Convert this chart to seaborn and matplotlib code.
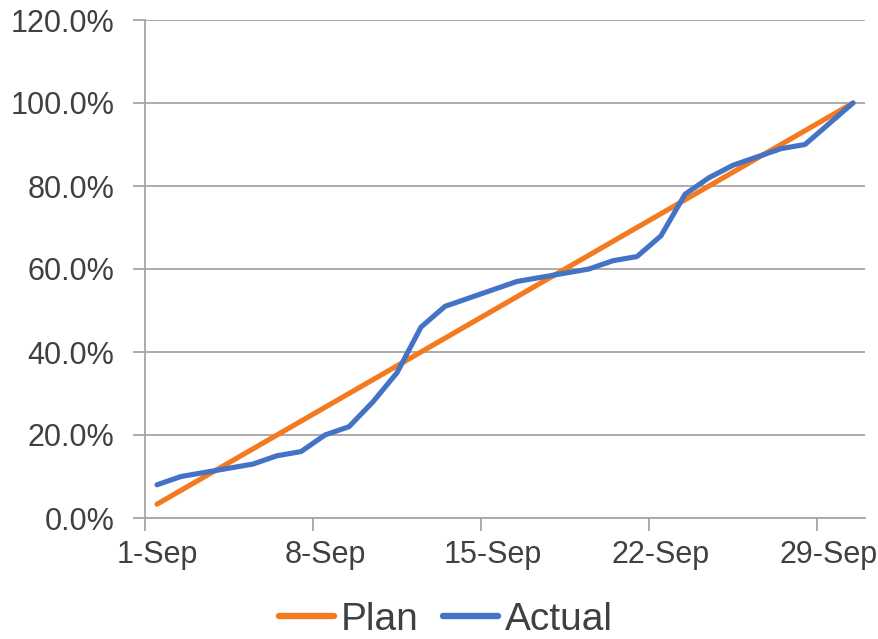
import matplotlib
matplotlib.use("Agg")
import matplotlib.pyplot as plt
import seaborn as sns
import pandas as pd
from matplotlib.ticker import FixedLocator, NullFormatter, FixedFormatter, PercentFormatter

# Day of month (September)
days = list(range(1, 31))

# Cumulative completion, percent
plan = [3.33, 6.67, 10.0, 13.33, 16.67, 20.0, 23.33, 26.67, 30.0, 33.33,
        36.67, 40.0, 43.33, 46.67, 50.0, 53.33, 56.67, 60.0, 63.33, 66.67,
        70.0, 73.33, 76.67, 80.0, 83.33, 86.67, 90.0, 93.33, 96.67, 100.0]
actual = [8, 10, 11, 12, 13, 15, 16, 20, 22, 28,
          35, 46, 51, 53, 55, 57, 58, 59, 60, 62,
          63, 68, 78, 82, 85, 87, 89, 90, 95, 100]

label_days = [1, 8, 15, 22, 29]
date_labels = ["1-Sep", "8-Sep", "15-Sep", "22-Sep", "29-Sep"]
y_ticks = [0, 20, 40, 60, 80, 100, 120]

series_names = ["Plan", "Actual"]
colors = {"Plan": "#F47A20", "Actual": "#4472C4"}

df = pd.concat([
    pd.DataFrame({"day": days, "value": plan, "series": "Plan"}),
    pd.DataFrame({"day": days, "value": actual, "series": "Actual"}),
], ignore_index=True)

sns.set_theme(style="white")
plt.rcParams["font.family"] = ["Liberation Sans", "DejaVu Sans"]

text_color = "#404040"
grid_color = "#a6a6a6"

fig = plt.figure(figsize=(8.79, 6.39), dpi=100)
ax = fig.add_axes([145 / 879, 1 - 518 / 639, 720 / 879, 498 / 639])

sns.lineplot(data=df, x="day", y="value", hue="series", hue_order=series_names,
             palette=colors, linewidth=3.7, ax=ax, sort=False)
for line in ax.get_lines():
    line.set_solid_capstyle("round")
    line.set_solid_joinstyle("round")

ax.set_xlim(0.5, 30.5)
ax.set_ylim(0, 120)
ax.set_xlabel("")
ax.set_ylabel("")

ax.yaxis.set_major_locator(FixedLocator(y_ticks))
ax.yaxis.set_major_formatter(PercentFormatter(decimals=1))
ax.yaxis.grid(True, color=grid_color, linewidth=1.3)
ax.xaxis.grid(False)
ax.set_axisbelow(True)

# Week boundaries carry tick marks; labels sit at the centre of each day slot
ax.xaxis.set_major_locator(FixedLocator([0.5, 7.5, 14.5, 21.5, 28.5]))
ax.xaxis.set_major_formatter(NullFormatter())
ax.xaxis.set_minor_locator(FixedLocator(label_days))
ax.xaxis.set_minor_formatter(FixedFormatter(date_labels))

for side in ("top", "right"):
    ax.spines[side].set_visible(False)
for side in ("left", "bottom"):
    ax.spines[side].set_color(grid_color)
    ax.spines[side].set_linewidth(1.3)

ax.tick_params(axis="x", which="major", length=9, width=1.3, color=grid_color,
               direction="out", bottom=True)
ax.tick_params(axis="x", which="minor", length=0, pad=16, labelsize=22,
               labelcolor=text_color)
ax.tick_params(axis="y", which="major", length=9, width=1.3, color=grid_color,
               direction="out", left=True, pad=13, labelsize=22,
               labelcolor=text_color)

handles, labels = ax.get_legend_handles_labels()
ax.get_legend().remove()
leg = fig.legend(handles, labels, loc="center", bbox_to_anchor=(446 / 879, 1 - 620 / 639),
                 ncol=2, frameon=False, fontsize=28, handlelength=1.41,
                 handletextpad=0.18, columnspacing=0.64, labelcolor=text_color)
for h in leg.get_lines():
    h.set_linewidth(4.6)
    h.set_solid_capstyle("round")

fig.savefig("out.png", dpi=100)
